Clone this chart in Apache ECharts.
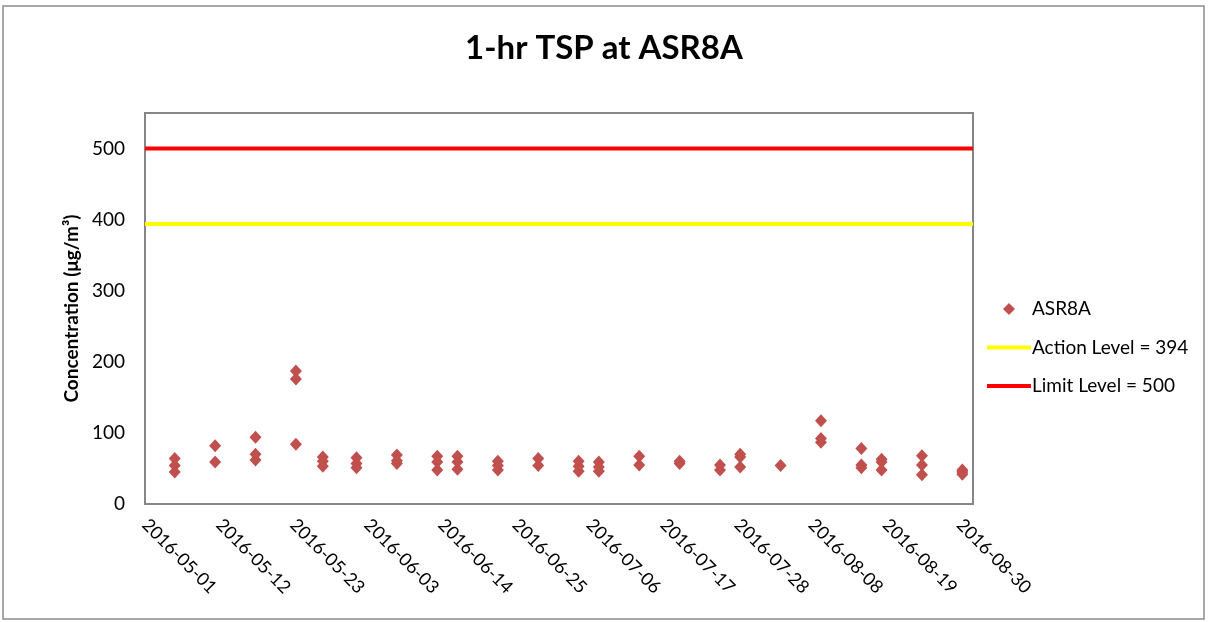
<!DOCTYPE html>
<html>
<head>
<meta charset="utf-8">
<title>1-hr TSP at ASR8A</title>
<script src="https://cdn.jsdelivr.net/npm/echarts@6/dist/echarts.min.js"></script>
<style>
  html, body { margin: 0; padding: 0; background: #ffffff; }
  #chart { width: 1208px; height: 622px; }
</style>
</head>
<body>
<div id="chart"></div>
<script>
// Sampling days and the 1-hr TSP readings taken on each day (µg/m³)
const sampleDates = [
  '2016-05-05', '2016-05-11', '2016-05-17', '2016-05-23', '2016-05-27', '2016-06-01',
  '2016-06-07', '2016-06-13', '2016-06-16', '2016-06-22', '2016-06-28', '2016-07-04',
  '2016-07-07', '2016-07-13', '2016-07-19', '2016-07-25', '2016-07-28', '2016-08-03',
  '2016-08-09', '2016-08-15', '2016-08-18', '2016-08-24', '2016-08-30'
];
const tspReadings = [
  [64, 54, 45], [82, 59], [94, 70, 62], [187, 176, 84], [66, 60, 53], [65, 57, 51],
  [69, 61, 57], [67, 59, 48], [67, 59, 49], [60, 54, 48], [64, 54], [60, 53, 46],
  [59, 52, 46], [67, 55], [60, 57], [55, 48], [70, 66, 52], [54],
  [117, 92, 87], [78, 55, 51], [63, 59, 48], [68, 55, 41], [48, 45, 42]
];
const sampleHour = 10;          // readings are plotted at their time of day

// Compliance levels
const actionLevel = 394;
const limitLevel = 500;

// Axis setup
const axisStart = '2016-05-01';
const axisEnd = '2016-09-01';
const tickStepDays = 11;
const yMin = 0, yMax = 550, yStep = 100;

const DAY = 86400000;
const t0 = Date.parse(axisStart + 'T00:00:00Z');
const dayOffset = s => (Date.parse(s + 'T00:00:00Z') - t0) / DAY;
const dayLabel = d => new Date(t0 + Math.round(d) * DAY).toISOString().slice(0, 10);
const xMax = dayOffset(axisEnd);

const points = [];
sampleDates.forEach((d, i) => {
  tspReadings[i].forEach(v => points.push([dayOffset(d) + sampleHour / 24, v]));
});

const FONT = 'Lato, "Open Sans", sans-serif';
const actionName = 'Action Level = ' + actionLevel;
const limitName = 'Limit Level = ' + limitLevel;

// legend glyphs: a small diamond and a thick horizontal bar
const DIAMOND_ICON = 'path://M5,0L10,5L5,10L0,5Z';
const BAR_ICON = 'path://M0,0H44V4H0Z';

const chart = echarts.init(document.getElementById('chart'), null, { renderer: 'canvas' });
chart.setOption({
  backgroundColor: '#ffffff',
  animation: false,
  textStyle: { fontFamily: FONT },
  graphic: [{
    type: 'rect',
    shape: { x: 3, y: 6, width: 1201, height: 613 },
    style: { fill: 'none', stroke: '#8c8c8c', lineWidth: 1.5 },
    silent: true, z: -1
  }],
  title: {
    text: '1-hr TSP at ASR8A',
    left: 'center',
    top: 27,
    textStyle: { fontFamily: FONT, fontSize: 33, fontWeight: 'bold', color: '#000' }
  },
  legend: {
    orient: 'vertical',
    left: 982,
    top: 293,
    itemWidth: 44,
    itemHeight: 12,
    itemGap: 16.5,
    symbolKeepAspect: true,
    textStyle: { fontFamily: FONT, fontSize: 19, lineHeight: 22, color: '#000', padding: [0, 0, 0, -4] },
    data: [
      { name: 'ASR8A', icon: DIAMOND_ICON },
      { name: actionName, icon: BAR_ICON },
      { name: limitName, icon: BAR_ICON }
    ]
  },
  grid: {
    left: 145, right: 235, top: 113, bottom: 118,
    show: true, borderColor: '#868686', borderWidth: 2, backgroundColor: 'transparent'
  },
  xAxis: {
    type: 'value',
    min: 0, max: xMax, interval: tickStepDays,
    axisLine: { show: true, onZero: false, lineStyle: { color: '#868686', width: 2 } },
    axisTick: { show: false },
    splitLine: { show: false },
    axisLabel: {
      rotate: -45, margin: 18, showMaxLabel: false,
      fontFamily: FONT, fontSize: 18, color: '#000',
      formatter: v => dayLabel(v)
    }
  },
  yAxis: {
    type: 'value',
    min: yMin, max: yMax, interval: yStep,
    name: 'Concentration (μg/m³)',
    nameLocation: 'middle',
    nameGap: 64,
    nameTextStyle: { fontFamily: FONT, fontSize: 19, fontWeight: 'bold', color: '#000' },
    axisLine: { show: true, lineStyle: { color: '#868686', width: 2 } },
    axisTick: { show: false },
    splitLine: { show: false },
    axisLabel: { showMaxLabel: false, margin: 20, fontFamily: FONT, fontSize: 19, color: '#000' }
  },
  series: [
    {
      name: 'ASR8A',
      type: 'scatter',
      symbol: 'diamond',
      symbolSize: [12, 13],
      itemStyle: { color: '#C0504D', opacity: 1 },
      data: points,
      z: 5
    },
    {
      name: actionName,
      type: 'line',
      symbol: 'none',
      lineStyle: { color: '#FFFF00', width: 4 },
      itemStyle: { color: '#FFFF00' },
      data: [[0, actionLevel], [xMax, actionLevel]],
      z: 3
    },
    {
      name: limitName,
      type: 'line',
      symbol: 'none',
      lineStyle: { color: '#FF0000', width: 4 },
      itemStyle: { color: '#FF0000' },
      data: [[0, limitLevel], [xMax, limitLevel]],
      z: 3
    }
  ]
});
</script>
</body>
</html>
